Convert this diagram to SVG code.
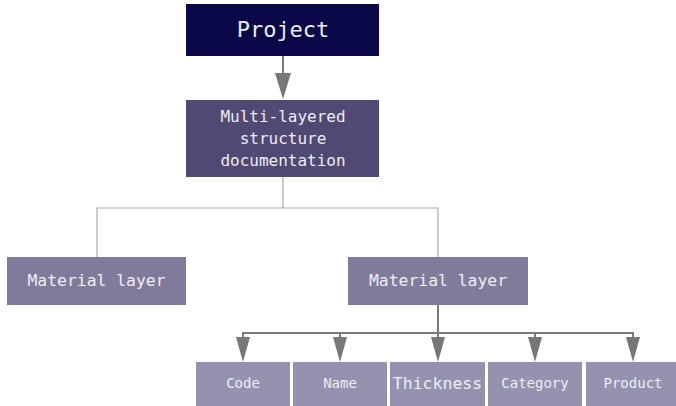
<svg xmlns="http://www.w3.org/2000/svg" width="676" height="406" viewBox="0 0 676 406">
<style>
text{font-family:"DejaVu Sans Mono","Liberation Mono",monospace;fill:#eeeef4;text-anchor:middle}
.tree{stroke:#a8a8a8;stroke-width:1.2;fill:none}
.arr{stroke:#7a7a7a;stroke-width:2;fill:none}
.head{fill:#777}
.mat{fill:#807b9a}
.leaf{fill:#9592b0}
.leaf-t{font-size:14px}
</style>
<rect width="676" height="406" fill="#ffffff"/>
<g id="connectors">
<line class="arr" x1="283" y1="56" x2="283" y2="78"/>
<polygon class="head" points="275,73 291,73 283,99"/>
<polyline class="tree" points="283,177 283,208"/>
<polyline class="tree" points="97,257 97,208 438,208 438,257"/>
<line class="arr" x1="438" y1="305" x2="438" y2="340"/>
<polyline class="arr" points="243,345 243,333 633,333 633,345"/>
<line class="arr" x1="340" y1="333" x2="340" y2="345"/>
<line class="arr" x1="535" y1="333" x2="535" y2="345"/>
<polygon class="head" points="236,337 250,337 243,362"/>
<polygon class="head" points="333,337 347,337 340,362"/>
<polygon class="head" points="431,337 445,337 438,362"/>
<polygon class="head" points="528,337 542,337 535,362"/>
<polygon class="head" points="626,337 640,337 633,362"/>
</g>
<g id="project">
<rect x="186" y="4" width="193" height="52" fill="#0b0847"/>
<text x="283" y="37" font-size="22">Project</text>
</g>
<g id="documentation">
<rect x="186" y="100" width="193" height="77" fill="#4f4974"/>
<text x="283" y="122" font-size="16">Multi-layered</text>
<text x="283" y="144" font-size="16">structure</text>
<text x="283" y="166" font-size="16">documentation</text>
</g>
<g id="material-left">
<rect class="mat" x="7" y="257" width="179" height="48"/>
<text x="96.5" y="286" font-size="16.4">Material layer</text>
</g>
<g id="material-right">
<rect class="mat" x="348" y="257" width="180" height="48"/>
<text x="438" y="286" font-size="16.4">Material layer</text>
</g>
<g id="code">
<rect class="leaf" x="196" y="362" width="94" height="44"/>
<text class="leaf-t" x="243" y="388">Code</text>
</g>
<g id="name">
<rect class="leaf" x="293" y="362" width="94" height="44"/>
<text class="leaf-t" x="340" y="388">Name</text>
</g>
<g id="thickness">
<rect class="leaf" x="390" y="362" width="95" height="44"/>
<text x="437.5" y="389" font-size="16.5">Thickness</text>
</g>
<g id="category">
<rect class="leaf" x="488" y="362" width="94" height="44"/>
<text class="leaf-t" x="535" y="388">Category</text>
</g>
<g id="product">
<rect class="leaf" x="586" y="362" width="94" height="44"/>
<text class="leaf-t" x="633" y="388">Product</text>
</g>
</svg>
